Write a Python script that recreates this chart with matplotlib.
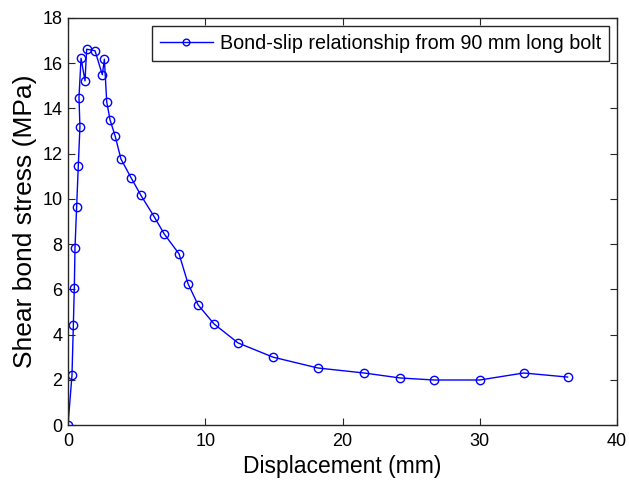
import matplotlib
matplotlib.use("Agg")
import matplotlib.pyplot as plt

displacement = [0.0, 0.29, 0.39, 0.46, 0.51, 0.63, 0.75, 0.87, 0.80, 0.95, 1.24, 1.36,
                1.97, 2.50, 2.65, 2.82, 3.06, 3.43, 3.86, 4.59, 5.32, 6.27, 7.02,
                8.09, 8.75, 9.48, 10.64, 12.39, 14.94, 18.22, 21.57, 24.2, 26.68,
                30.0, 33.2, 36.4]
stress = [0.0, 2.2, 4.42, 6.07, 7.85, 9.66, 11.47, 13.2, 14.48, 16.22, 15.22, 16.62,
          16.55, 15.49, 16.18, 14.3, 13.5, 12.79, 11.76, 10.94, 10.15, 9.22, 8.44,
          7.57, 6.24, 5.31, 4.47, 3.63, 3.0, 2.52, 2.30, 2.08, 1.99,
          1.99, 2.3, 2.12]
series_label = "Bond-slip relationship from 90 mm long bolt"
x_ticks = [0, 10, 20, 30, 40]
y_ticks = [0, 2, 4, 6, 8, 10, 12, 14, 16, 18]

plt.rcParams['font.family'] = ['Liberation Sans', 'DejaVu Sans']

fig = plt.figure(figsize=(6.29, 4.8), dpi=100)
ax = fig.add_axes([68/629, 55/480, 549/629, 407/480])
ax.plot(displacement, stress, color=(0, 0, 1), lw=1.0, marker='o', markersize=6,
        markerfacecolor='none', markeredgecolor=(0, 0, 1), markeredgewidth=1.0,
        label=series_label)
ax.set_xlim(0, 40)
ax.set_ylim(0, 18)
ax.set_xticks(x_ticks)
ax.set_yticks(y_ticks)
ax.tick_params(direction='in', top=True, right=True, labelsize=13, length=5,
               colors='#262626', labelcolor='black')
ax.tick_params(axis='x', pad=6)
ax.tick_params(axis='y', pad=4)
for s in ax.spines.values():
    s.set_color('#262626')
    s.set_linewidth(1.0)
ax.set_xlabel("Displacement (mm)", fontsize=16.5, labelpad=3)
ax.set_ylabel("Shear bond stress (MPa)", fontsize=19, labelpad=4)
leg = ax.legend(loc='upper right', fontsize=14.2, fancybox=False, framealpha=1,
                edgecolor='#262626', borderpad=0.4, handlelength=2.7,
                handletextpad=0.35, borderaxespad=0.4, markerscale=0.8)
leg.get_frame().set_linewidth(1.0)
fig.savefig("out.png", dpi=100)
